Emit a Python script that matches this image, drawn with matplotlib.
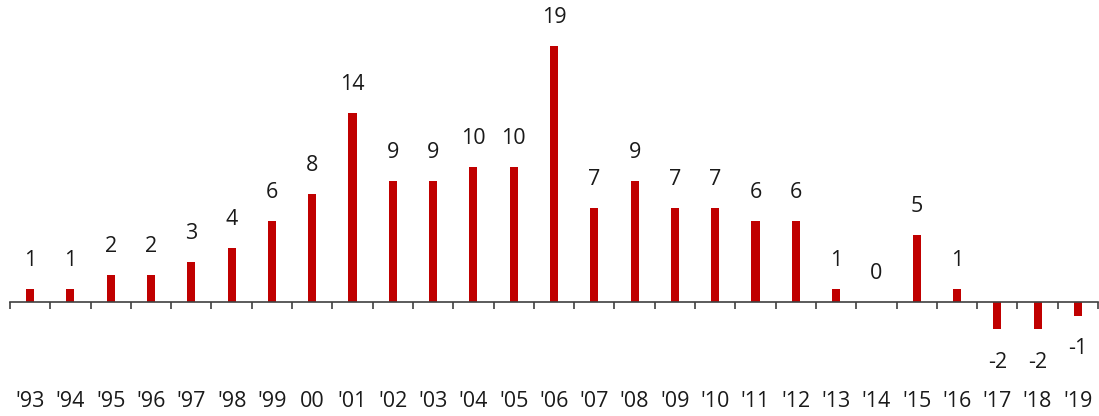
import matplotlib
matplotlib.use("Agg")
import matplotlib.pyplot as plt
from matplotlib.ticker import FixedLocator

years = ["'93", "'94", "'95", "'96", "'97", "'98", "'99", "00", "'01", "'02",
         "'03", "'04", "'05", "'06", "'07", "'08", "'09", "'10", "'11", "'12",
         "'13", "'14", "'15", "'16", "'17", "'18", "'19"]
values = [1, 1, 2, 2, 3, 4, 6, 8, 14, 9,
          9, 10, 10, 19, 7, 9, 7, 7, 6, 6,
          1, 0, 5, 1, -2, -2, -1]

plt.rcParams['font.family'] = ['Open Sans', 'DejaVu Sans']
text_color = '#1a1a1a'
bar_color = '#C00000'
font_size = 15.5

fig = plt.figure(figsize=(10.99, 4.16), dpi=100)
ax = fig.add_axes([10 / 1099, 0, 1088 / 1099, 1])

x = list(range(len(years)))
ax.bar(x, values, width=0.2, color=bar_color, zorder=2)

# scale: zero line at 302px from top, 13.5px per unit
ax.set_ylim(-114 / 13.5, 302 / 13.5)
ax.set_xlim(-0.5, len(years) - 0.5)

for xi, v in zip(x, values):
    off = 20.5 if v >= 0 else -24
    ax.annotate(str(v), (xi, v), xytext=(0, off), textcoords='offset points',
                ha='center', va='center', fontsize=font_size, color=text_color)

for side in ['top', 'left', 'right']:
    ax.spines[side].set_visible(False)
ax.spines['bottom'].set_position(('data', 0))
ax.spines['bottom'].set_color('#404040')
ax.spines['bottom'].set_linewidth(1.2)
ax.yaxis.set_visible(False)

ax.set_xticks(x)
ax.set_xticklabels(years, fontsize=font_size, color=text_color)
ax.tick_params(axis='x', which='major', length=0, pad=64)
ax.xaxis.set_minor_locator(FixedLocator([i - 0.5 for i in range(len(years) + 1)]))
ax.tick_params(axis='x', which='minor', length=5, width=1.2, color='#404040', direction='out')

fig.savefig('out.png', dpi=100)
